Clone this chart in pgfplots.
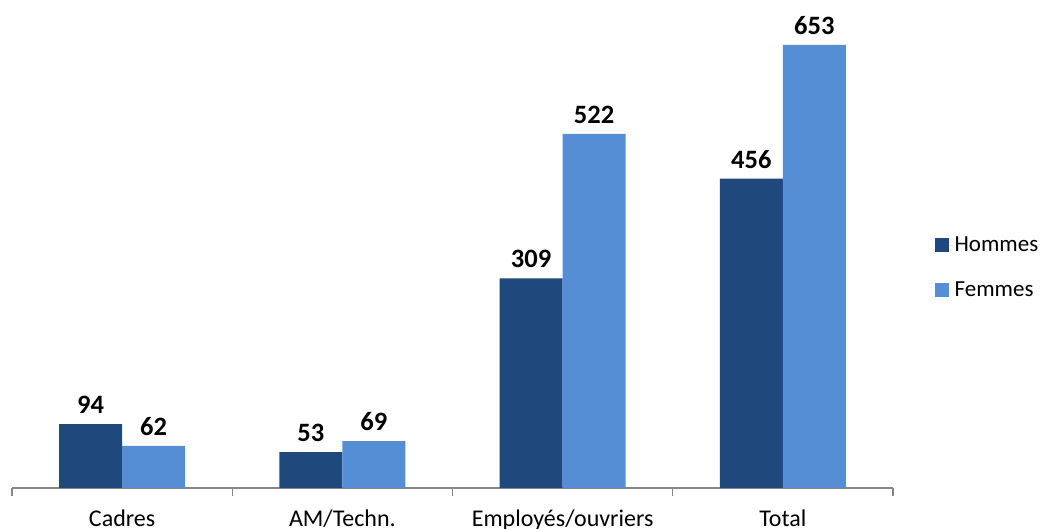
\documentclass[border=0pt]{standalone}
\usepackage{fontspec}
\setmainfont{Carlito}
\usepackage{pgfplots}
\pgfplotsset{compat=1.18}
\definecolor{hom}{HTML}{1F497D}
\definecolor{fem}{HTML}{558ED5}
\definecolor{axgray}{HTML}{868686}
\begin{document}
\begin{tikzpicture}[x=1pt,y=1pt]
\path[use as bounding box] (0,0) rectangle (1042,529);
\begin{axis}[
  at={(12pt,41pt)}, anchor=south west,
  scale only axis, width=881pt, height=475pt,
  xmin=-0.5, xmax=3.5, ymin=0, ymax=700,
  ybar=0pt, bar width=63pt,
  axis x line*=bottom, axis y line=none,
  x axis line style={color=axgray, line width=1.3pt},
  xtick={0,1,2,3},
  xticklabels={Cadres, AM/Techn., Employés/ouvriers, Total},
  major tick length=0pt,
  xticklabel style={font=\fontsize{24}{28}\selectfont, anchor=base, yshift=-39pt, inner sep=0pt},
  extra x ticks={-0.5,0.5,1.5,2.5,3.5},
  extra x tick labels={},
  extra x tick style={major tick length=8pt, tick align=outside, tick style={color=axgray, line width=1.3pt}},
  clip=false,
  /pgf/number format/assume math mode=true,
  nodes near coords,
  every node near coord/.append style={font=\bfseries\fontsize{26.5}{30}\selectfont, anchor=base, yshift=10.5pt, text=black},
  legend style={draw=none, fill=none, font=\fontsize{23}{27}\selectfont, at={(axis description cs:1.047,0.464)}, anchor=west, row sep=24.5pt, inner sep=0pt},
  legend cell align=left,
  legend image code/.code={\fill[#1] (0pt,-7pt) rectangle (14pt,7pt); \path (0pt,0pt) -- (18pt,0pt);},
]
\addplot[fill=hom, draw=none] coordinates {(0,94) (1,53) (2,309) (3,456)};
\addplot[fill=fem, draw=none] coordinates {(0,62) (1,69) (2,522) (3,653)};
\legend{Hommes, Femmes}
\end{axis}
\end{tikzpicture}
\end{document}
